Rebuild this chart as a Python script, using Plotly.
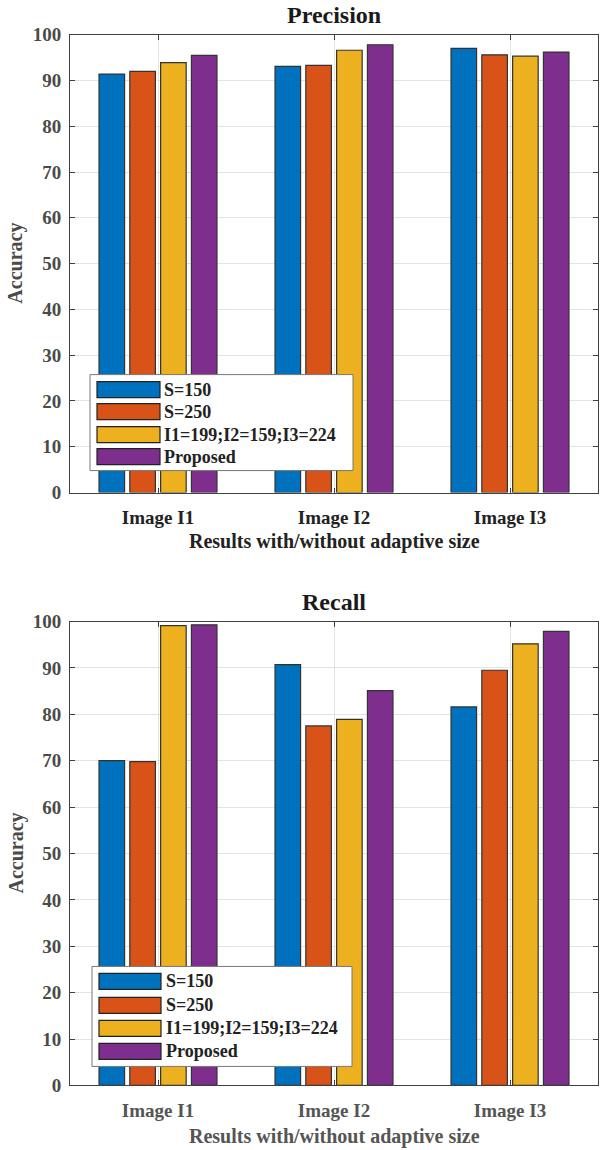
import plotly.graph_objects as go

categories = ["Image I1", "Image I2", "Image I3"]
series_names = ["S=150", "S=250", "I1=199;I2=159;I3=224", "Proposed"]
colors = ["#0072BD", "#D95319", "#EDB120", "#7E2F8E"]

precision_s150 = [91.4, 93.1, 97.0]
precision_s250 = [92.0, 93.3, 95.6]
precision_fixed = [93.9, 96.6, 95.3]
precision_proposed = [95.5, 97.8, 96.2]

recall_s150 = [70.0, 90.7, 81.6]
recall_s250 = [69.8, 77.5, 89.5]
recall_fixed = [99.1, 78.9, 95.2]
recall_proposed = [99.3, 85.1, 97.9]

y_ticks = [0, 10, 20, 30, 40, 50, 60, 70, 80, 90, 100]

W, H = 605, 1150
FONT = "Liberation Serif"

# observed vertical mapping of the capture: shown = 10.3 + 0.982 * page
Y_OFF, Y_SCALE = 10.3, 0.982


def px_x(x):
    return x / W


def px_y(y):
    page = (y - Y_OFF) / Y_SCALE
    return 1 - page / H


fig = go.Figure()

precision = [precision_s150, precision_s250, precision_fixed, precision_proposed]
recall = [recall_s150, recall_s250, recall_fixed, recall_proposed]

for name, vals, c in zip(series_names, precision, colors):
    fig.add_trace(go.Bar(x=categories, y=vals, name=name, marker_color=c,
                         marker_line_color="#333333", marker_line_width=1.2,
                         xaxis="x", yaxis="y", showlegend=False,
                         offsetgroup=name))
for name, vals, c in zip(series_names, recall, colors):
    fig.add_trace(go.Bar(x=categories, y=vals, name=name, marker_color=c,
                         marker_line_color="#333333", marker_line_width=1.2,
                         xaxis="x2", yaxis="y2", showlegend=False,
                         offsetgroup=name))

axis_common = dict(showline=True, linecolor="#404040", linewidth=1, mirror="allticks",
                   ticks="inside", ticklen=5, tickcolor="#404040",
                   showgrid=True, gridcolor="#e3e3e3", gridwidth=1, zeroline=False)

TOP = (35, 493)
BOT = (622, 1086)
xd = [px_x(70), px_x(598)]
fig.update_layout(
    width=W, height=H,
    margin=dict(l=0, r=0, t=0, b=0),
    paper_bgcolor="white", plot_bgcolor="white",
    barmode="group", bargap=0.3, bargroupgap=0.17,
    font=dict(family=FONT, size=16, color="#222222"),
    xaxis=dict(domain=xd, anchor="y", range=[-0.5, 2.5], ticklabelstandoff=8,
               tickfont=dict(family=FONT, size=19, color="#222222", weight="bold"),
               **axis_common),
    yaxis=dict(domain=[px_y(TOP[1]), px_y(TOP[0])], anchor="x", range=[0, 100],
               tickvals=y_ticks, ticklabelstandoff=4,
               tickfont=dict(family=FONT, size=19, color="#4a4a4a", weight="bold"),
               **axis_common),
    xaxis2=dict(domain=xd, anchor="y2", range=[-0.5, 2.5], ticklabelstandoff=8,
                tickfont=dict(family=FONT, size=19, color="#555555", weight="bold"),
                **axis_common),
    yaxis2=dict(domain=[px_y(BOT[1]), px_y(BOT[0])], anchor="x2", range=[0, 100],
                tickvals=y_ticks, ticklabelstandoff=4,
                tickfont=dict(family=FONT, size=19, color="#4a4a4a", weight="bold"),
                **axis_common),
)


def ann(text, x, y, size, color, angle=0, xanchor="center"):
    return dict(text="<b>" + text + "</b>", x=px_x(x), y=px_y(y), xref="paper",
                yref="paper", showarrow=False, textangle=angle,
                font=dict(family=FONT, size=size, color=color),
                xanchor=xanchor, yanchor="middle")


annotations = [
    ann("Precision", 334, 15, 24, "#1a1a1a"),
    ann("Recall", 334, 602, 24, "#1a1a1a"),
    ann("Results with/without adaptive size", 334, 542, 20, "#222222"),
    ann("Results with/without adaptive size", 334, 1137, 20, "#555555"),
    ann("Accuracy", 16, (TOP[0] + TOP[1]) / 2, 20, "#4a4a4a", angle=-90),
    ann("Accuracy", 16, (BOT[0] + BOT[1]) / 2, 20, "#4a4a4a", angle=-90),
]
shapes = []


def add_legend(box, rows, patch_x, text_x):
    x0, y0, x1, y1 = box
    shapes.append(dict(type="rect", xref="paper", yref="paper",
                       x0=px_x(x0), x1=px_x(x1), y0=px_y(y1), y1=px_y(y0),
                       fillcolor="white", line=dict(color="#777777", width=1)))
    for name, c, yc in zip(series_names, colors, rows):
        shapes.append(dict(type="rect", xref="paper", yref="paper",
                           x0=px_x(patch_x[0]), x1=px_x(patch_x[1]),
                           y0=px_y(yc + 8), y1=px_y(yc - 8),
                           fillcolor=c, line=dict(color="#222222", width=1.2)))
        annotations.append(ann(name, text_x, yc, 18, "#222222", xanchor="left"))


add_legend((90, 375, 353, 471), [390, 412, 435, 457], (97, 160), 162)
add_legend((92, 967, 352, 1067), [982, 1006, 1029, 1052], (99, 161), 164)

fig.update_layout(annotations=annotations, shapes=shapes)

fig.write_html("out.html", config={"displayModeBar": False},
               post_script="document.body.style.margin='0';")
